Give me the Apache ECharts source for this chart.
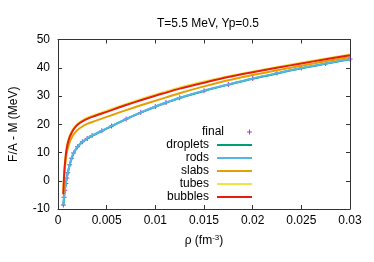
<!DOCTYPE html>
<html><head><meta charset="utf-8">
<script src="https://cdn.jsdelivr.net/npm/echarts@6/dist/echarts.min.js"></script>
<style>html,body{margin:0;padding:0;background:#fff}#c{width:374px;height:262px}</style>
</head><body><div id="c"></div>
<script>
const rho = [0.00055,0.00062,0.0007,0.0008,0.0009,0.001,0.0012,0.0014,0.0016,0.002,0.0025,0.003,0.0035,0.0045,0.0055,0.007,0.0085,0.01,0.0111,0.0125,0.015,0.0175,0.02,0.0225,0.025,0.0275,0.03];
const finalE    = [-8.6,-5.8,-3.4,-1.0,1.0,2.8,5.7,8.0,9.8,12.0,13.8,15.0,16.0,17.7,19.4,21.9,24.2,26.3,27.7,29.4,31.9,34.1,36.2,38.1,39.9,41.5,43.1];
const droplets  = [-8.7,-5.9,-3.5,-1.1,0.9,2.7,5.6,7.9,9.7,11.9,13.7,14.9,15.9,17.6,19.3,21.8,24.1,26.2,27.6,29.3,31.8,34.0,36.1,38.0,39.8,41.4,43.0];
const rods      = [-8.6,-5.8,-3.4,-1.0,1.0,2.8,5.7,8.0,9.8,12.0,13.8,15.0,16.0,17.7,19.4,21.9,24.2,26.3,27.7,29.4,31.9,34.1,36.2,38.1,39.9,41.5,43.1];
const slabs     = [-4.8,0.7,4.3,7.5,9.8,11.4,13.7,15.2,16.4,18.0,19.2,20.1,20.8,22.0,23.2,25.0,26.7,28.3,29.5,31.0,33.4,35.6,37.4,39.1,40.7,42.3,43.8];
const tubes     = [-4.6,1.9,5.9,9.4,11.9,13.6,15.9,17.4,18.6,20.2,21.4,22.3,23.0,24.2,25.4,27.2,28.9,30.5,31.6,33.0,35.1,37.0,38.7,40.3,41.8,43.3,44.7];
const bubbles   = [-4.8,1.5,5.5,9.0,11.5,13.2,15.5,17.0,18.2,19.8,21.0,21.9,22.6,23.8,25.0,26.8,28.5,30.1,31.2,32.6,34.7,36.7,38.4,40.0,41.5,43.0,44.4];
const xTicks = {min:0, max:0.03, interval:0.005};
const yTicks = {min:-10, max:50, interval:10};
const names = ['final','droplets','rods','slabs','tubes','bubbles'];
const colors = ['#9400d3','#009e73','#56b4e9','#e69f00','#f0e442','#e51e10'];

const pair = a => rho.map((x,i)=>[x,a[i]]);
const font = 'Liberation Sans, Arial, sans-serif';
const plus = 'path://M4,0h2v4h4v2h-4v4h-2v-4h-4v-2h4z';

const lineSeries = (name, arr, c) => ({
  name, type:'line', data: pair(arr), symbol:'none', showSymbol:false, smooth:0.3,
  lineStyle:{color:c, width:2}, itemStyle:{color:c}, xAxisIndex:0, yAxisIndex:0, animation:false
});

const rowTops = [126, 139, 152, 165, 178, 191];
const legends = names.map((n,i)=>({
  data:[i===0 ? {name:n} : {name:n, icon:'rect'}], orient:'vertical', align:'right', right:122, top: rowTops[i],
  itemWidth:35, itemHeight: i===0 ? 5 : 2, itemGap:0, padding:0,
  textStyle:{fontSize:12, fontFamily:font, color:'#000', padding:[0,3,0,0]},
  selectedMode:false
}));

const axisLine = {show:true, onZero:false, lineStyle:{color:'#333', width:1}};
const tick = {inside:true, length:4, lineStyle:{color:'#333'}};
const chart = echarts.init(document.getElementById('c'), null, {renderer:'canvas'});
chart.setOption({
  animation:false,
  title:{text:'T=5.5 MeV, Yp=0.5', left:203, top:13, textAlign:'center',
    textStyle:{fontSize:12, fontWeight:'normal', fontFamily:font, color:'#000'}},
  grid:{left:56, right:24, top:39.5, bottom:53, containLabel:false},
  legend: legends,
  xAxis:[
    {type:'value', ...xTicks, position:'bottom', axisLine, axisTick:tick,
     splitLine:{show:false}, axisLabel:{fontSize:12, fontFamily:font, color:'#000', margin:6},
     name:'{a|ρ (fm}{b|-3}{a|)}', nameLocation:'middle', nameGap:25,
     nameTextStyle:{rich:{a:{fontSize:12, fontFamily:font, color:'#000'}, b:{fontSize:8, fontFamily:font, color:'#000', verticalAlign:'top', padding:[0,0,6,0]}}}},
    {type:'value', ...xTicks, position:'top', axisLine, axisTick:tick,
     splitLine:{show:false}, axisLabel:{show:false}}
  ],
  yAxis:[
    {type:'value', ...yTicks, position:'left', axisLine, axisTick:tick,
     splitLine:{show:false}, axisLabel:{fontSize:12, fontFamily:font, color:'#000', margin:8},
     name:'F/A - M (MeV)', nameLocation:'middle', nameGap:38, nameRotate:90,
     nameTextStyle:{fontSize:12, fontFamily:font, color:'#000'}},
    {type:'value', ...yTicks, position:'right', axisLine, axisTick:tick,
     splitLine:{show:false}, axisLabel:{show:false}}
  ],
  series:[
    {name:'final', type:'scatter', data: pair(finalE), symbol: plus, symbolSize:5,
     itemStyle:{color:colors[0]}, xAxisIndex:0, yAxisIndex:0, animation:false},
    lineSeries('droplets', droplets, colors[1]),
    lineSeries('rods', rods, colors[2]),
    lineSeries('slabs', slabs, colors[3]),
    lineSeries('tubes', tubes, colors[4]),
    lineSeries('bubbles', bubbles, colors[5])
  ]
});
</script></body></html>
